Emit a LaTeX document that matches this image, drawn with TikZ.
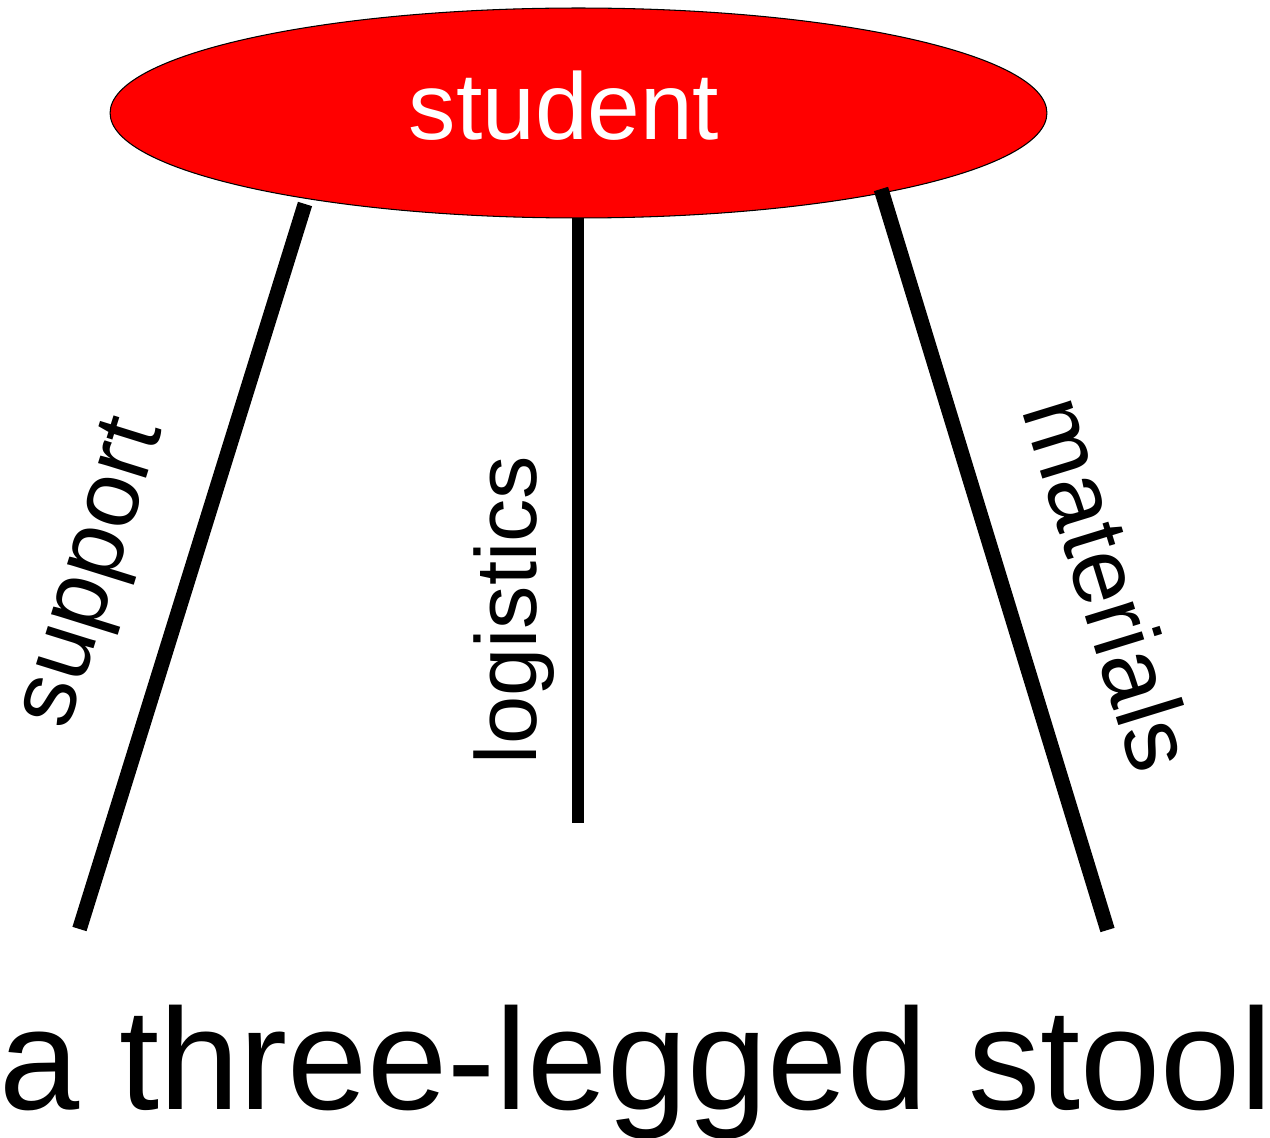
\documentclass[tikz,border=0pt]{standalone}
\usepackage{fontspec}
\setmainfont{Liberation Sans}
\usetikzlibrary{shapes.geometric}
\tikzset{
  seat/.style={ellipse, draw=black, line width=0.6pt, fill=red, inner sep=0pt,
    minimum width=18.74cm, minimum height=4.2cm},
  leg/.style={line width=8.4pt, line cap=butt},
  midleg/.style={line width=6.8pt, line cap=butt},
  lbl/.style={inner sep=0pt, anchor=base, font=\fontsize{54pt}{60pt}\selectfont},
}
\begin{document}
\begin{tikzpicture}[x=0.02cm, y=-0.02cm]
\useasboundingbox (0,0) rectangle (1270,1138);
\node[seat] (seat) at (578.5,113) {};
\node[lbl, text=white, font=\fontsize{53.9pt}{60pt}\selectfont] (student) at (564,140) {student};
% legs
\coordinate (ltop) at (305,204);
\coordinate (lbot) at (79.5,929);
\coordinate (mtop) at (578,218);
\coordinate (mbot) at (578,823);
\coordinate (rtop) at (881,189);
\coordinate (rbot) at (1107.5,930);
\draw[leg] (ltop) -- (lbot);
\draw[midleg] (mtop) -- (mbot);
\draw[leg] (rtop) -- (rbot);
% labels
\node[lbl, rotate=72.7] (support) at (115,580) {support};
\node[lbl, rotate=90, font=\fontsize{49.3pt}{60pt}\selectfont] (logistics) at (536,610) {logistics};
\node[lbl, rotate=-72.9] (materials) at (1078,593) {materials};
\node[lbl, font=\fontsize{82pt}{90pt}\selectfont] (title) at (636,1109) {a three-legged stool};
\end{tikzpicture}
\end{document}
